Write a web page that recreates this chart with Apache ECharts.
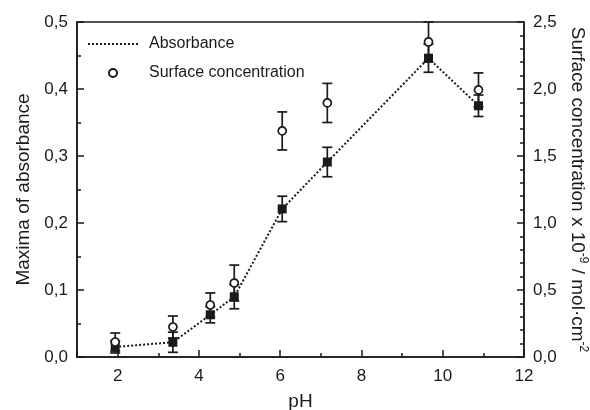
<!DOCTYPE html>
<html>
<head>
<meta charset="utf-8">
<script src="https://cdn.jsdelivr.net/npm/echarts@6/dist/echarts.min.js"></script>
<style>html,body{margin:0;padding:0;background:#fff;}#chart{width:590px;height:410px;}</style>
</head>
<body>
<div id="chart"></div>
<script>
// pH values
var pH = [1.94, 3.36, 4.28, 4.87, 6.05, 7.16, 9.65, 10.88];
// Maxima of absorbance (left axis) and its error
var absorbance = [0.015, 0.022, 0.063, 0.090, 0.221, 0.291, 0.446, 0.375];
var absorbanceErr = [0.009, 0.015, 0.012, 0.018, 0.019, 0.022, 0.021, 0.016];
// Surface concentration x 10^-9 mol/cm^2 (right axis) and its error
var surface = [0.112, 0.224, 0.388, 0.552, 1.687, 1.896, 2.351, 1.993];
var surfaceErr = [0.067, 0.082, 0.090, 0.134, 0.142, 0.146, 0.149, 0.127];
// tick settings
var xTicks = [2, 4, 6, 8, 10, 12];
var leftTicks = [0, 0.1, 0.2, 0.3, 0.4, 0.5];
var rightTicks = [0, 0.5, 1.0, 1.5, 2.0, 2.5];

var INK = '#1a1a1a';
var FONT = 'Liberation Sans, Arial, sans-serif';

function pairs(xs, ys) { return xs.map(function (x, i) { return [x, ys[i]]; }); }
function triples(xs, ys, es) { return xs.map(function (x, i) { return [x, ys[i], es[i]]; }); }
function comma(v) { return v.toFixed(1).replace('.', ','); }

function errorBar(params, api) {
  var x = api.value(0), y = api.value(1), e = api.value(2);
  var top = api.coord([x, y + e]);
  var bot = api.coord([x, y - e]);
  var half = 5;
  var style = { stroke: INK, lineWidth: 1.7, fill: null };
  return {
    type: 'group',
    children: [
      { type: 'line', shape: { x1: top[0], y1: top[1], x2: bot[0], y2: bot[1] }, style: style },
      { type: 'line', shape: { x1: top[0] - half, y1: top[1], x2: top[0] + half, y2: top[1] }, style: style },
      { type: 'line', shape: { x1: bot[0] - half, y1: bot[1], x2: bot[0] + half, y2: bot[1] }, style: style }
    ]
  };
}

var chart = echarts.init(document.getElementById('chart'), null, { renderer: 'canvas' });
var option = {
  animation: false,
  backgroundColor: '#fff',
  textStyle: { fontFamily: FONT, color: INK },
  grid: { left: 77, right: 66, top: 22, bottom: 53, show: true, borderColor: INK, borderWidth: 1.5,
    containLabel: false, outerBoundsMode: 'none' },
  legend: {
    left: 82, top: 31, orient: 'vertical', itemWidth: 50, itemHeight: 8, itemGap: 13,
    textStyle: { fontFamily: FONT, fontSize: 16, color: INK, padding: [0, 0, 0, 6] },
    data: [{ name: 'Absorbance', itemStyle: { opacity: 0 } }, { name: 'Surface concentration' }]
  },
  xAxis: {
    type: 'value', min: 1, max: 12, splitNumber: 5,
    name: 'pH', nameLocation: 'middle', nameGap: 35,
    nameTextStyle: { fontFamily: FONT, fontSize: 19, color: INK },
    axisLine: { show: true, lineStyle: { color: INK, width: 1.5 } },
    axisTick: { show: true, inside: true, length: 7, lineStyle: { color: INK, width: 1.5 } },
    minorTick: { show: true, splitNumber: 2, length: 4, lineStyle: { color: INK, width: 1.5 } },
    axisLabel: { fontFamily: FONT, fontSize: 17, color: INK, margin: 11, showMinLabel: false,
      formatter: function (v) { return xTicks.indexOf(v) >= 0 ? String(v) : ''; } },
    splitLine: { show: false }
  },
  yAxis: [
    {
      type: 'value', min: leftTicks[0], max: leftTicks[leftTicks.length - 1], interval: 0.1, position: 'left',
      name: 'Maxima of absorbance', nameLocation: 'middle', nameGap: 39,
      nameTextStyle: { fontFamily: FONT, fontSize: 19, color: INK },
      axisLine: { show: true, lineStyle: { color: INK, width: 1.5 } },
      axisTick: { show: true, inside: true, length: 7, lineStyle: { color: INK, width: 1.5 } },
      minorTick: { show: true, splitNumber: 2, length: 4, lineStyle: { color: INK, width: 1.5 } },
      axisLabel: { fontFamily: FONT, fontSize: 17, color: INK, margin: 9, formatter: comma },
      splitLine: { show: false }
    },
    {
      type: 'value', min: rightTicks[0], max: rightTicks[rightTicks.length - 1], interval: 0.5, position: 'right',
      name: '{a|Surface concentration x 10}{s|-9}{a| / mol·cm}{s|-2}',
      nameLocation: 'middle', nameGap: 40, nameRotate: -90,
      nameTextStyle: { fontFamily: FONT, fontSize: 19, color: INK,
        rich: { a: { fontFamily: FONT, fontSize: 19, color: INK, lineHeight: 22, verticalAlign: 'bottom' },
                s: { fontFamily: FONT, fontSize: 12, color: INK, lineHeight: 22, verticalAlign: 'top' } } },
      axisLine: { show: true, lineStyle: { color: INK, width: 1.5 } },
      axisTick: { show: true, inside: true, length: 7, lineStyle: { color: INK, width: 1.5 } },
      minorTick: { show: true, splitNumber: 5, length: 4, lineStyle: { color: INK, width: 1.5 } },
      axisLabel: { fontFamily: FONT, fontSize: 17, color: INK, margin: 9, formatter: comma },
      splitLine: { show: false }
    }
  ],
  series: [
    {
      name: 'absErr', type: 'custom', yAxisIndex: 0, renderItem: errorBar,
      data: triples(pH, absorbance, absorbanceErr), z: 2, silent: true
    },
    {
      name: 'surfErr', type: 'custom', yAxisIndex: 1, renderItem: errorBar,
      data: triples(pH, surface, surfaceErr), z: 2, silent: true
    },
    {
      name: 'Absorbance', type: 'line', yAxisIndex: 0, symbol: 'none',
      lineStyle: { color: INK, width: 2, type: [2, 2] },
      itemStyle: { color: INK },
      data: pairs(pH, absorbance), z: 3
    },
    {
      name: 'absPoints', type: 'scatter', yAxisIndex: 0, symbol: 'rect', symbolSize: 9,
      itemStyle: { color: INK, opacity: 1 },
      data: pairs(pH, absorbance), z: 4
    },
    {
      name: 'Surface concentration', type: 'scatter', yAxisIndex: 1, symbol: 'circle', symbolSize: 8,
      itemStyle: { color: '#fff', borderColor: INK, borderWidth: 1.7, opacity: 1 },
      data: pairs(pH, surface), z: 4
    }
  ]
};
chart.setOption(option);
</script>
</body>
</html>
